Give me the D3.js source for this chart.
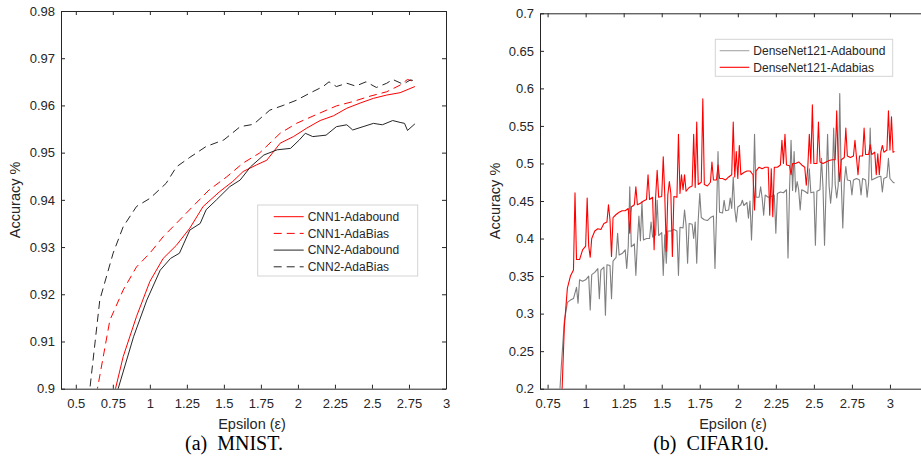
<!DOCTYPE html>
<html>
<head>
<meta charset="utf-8">
<script src="https://cdn.jsdelivr.net/npm/d3@7"></script>
<style>
  body { margin: 0; background: #fff; }
  svg { display: block; }
  .axis text { font-family: "Liberation Sans", Arial, sans-serif; font-size: 13px; fill: #262626; }
  .axis path, .axis line { stroke: #262626; }
</style>
</head>
<body>
<script>
// ---- panel (a) MNIST ----
const mnistXTicks = [0.5, 0.75, 1, 1.25, 1.5, 1.75, 2, 2.25, 2.5, 2.75, 3]
const mnistYTicks = [0.9, 0.91, 0.92, 0.93, 0.94, 0.95, 0.96, 0.97, 0.98]

const cnn1AdaboundEps = [0.74, 0.768, 0.82, 0.91, 1.0, 1.09, 1.18, 1.27, 1.36, 1.47, 1.56, 1.63, 1.72, 1.79, 1.88, 1.97, 2.06, 2.15, 2.24, 2.33, 2.42, 2.51, 2.6, 2.69, 2.79]
const cnn1AdaboundAcc = [0.896, 0.9, 0.9068, 0.9153, 0.9227, 0.9276, 0.9304, 0.934, 0.9386, 0.9417, 0.9439, 0.946, 0.9474, 0.9484, 0.952, 0.9534, 0.9552, 0.9568, 0.9578, 0.9594, 0.9605, 0.9615, 0.9622, 0.9627, 0.964]

const cnn1AdaBiasEps = [0.63, 0.646, 0.73, 0.82, 0.91, 1.0, 1.09, 1.2, 1.29, 1.4, 1.52, 1.63, 1.74, 1.88, 1.99, 2.12, 2.26, 2.37, 2.48, 2.6, 2.69, 2.74, 2.79]
const cnn1AdaBiasAcc = [0.896, 0.9, 0.9145, 0.9209, 0.9258, 0.9287, 0.9322, 0.9357, 0.9386, 0.9421, 0.9449, 0.9478, 0.9499, 0.9541, 0.9562, 0.958, 0.9599, 0.9608, 0.9619, 0.9629, 0.9643, 0.9655, 0.965]

const cnn2AdaboundEps = [0.77, 0.786, 0.89, 0.98, 1.07, 1.14, 1.2, 1.27, 1.34, 1.38, 1.45, 1.54, 1.61, 1.68, 1.77, 1.86, 1.95, 2.01, 2.05, 2.1, 2.19, 2.26, 2.33, 2.37, 2.44, 2.51, 2.57, 2.64, 2.69, 2.72, 2.74, 2.79]
const cnn2AdaboundAcc = [0.897, 0.9, 0.911, 0.9188, 0.9251, 0.9276, 0.9287, 0.9336, 0.935, 0.9379, 0.94, 0.9428, 0.9442, 0.947, 0.9495, 0.9506, 0.9509, 0.9527, 0.9541, 0.9534, 0.9537, 0.9555, 0.9559, 0.9548, 0.9555, 0.9562, 0.9559, 0.9568, 0.9564, 0.9562, 0.9547, 0.9561]

const cnn2AdaBiasEps = [0.58, 0.595, 0.662, 0.752, 0.82, 0.91, 1.0, 1.11, 1.18, 1.27, 1.38, 1.5, 1.61, 1.7, 1.81, 1.9, 1.99, 2.08, 2.17, 2.21, 2.26, 2.33, 2.39, 2.46, 2.53, 2.6, 2.64, 2.71, 2.76, 2.79]
const cnn2AdaBiasAcc = [0.895, 0.9, 0.9188, 0.9287, 0.9343, 0.9386, 0.9403, 0.9435, 0.947, 0.949, 0.9513, 0.9527, 0.9555, 0.956, 0.959, 0.96, 0.9611, 0.9626, 0.964, 0.965, 0.964, 0.9647, 0.9641, 0.965, 0.9638, 0.9647, 0.9655, 0.9645, 0.9654, 0.9652]

// ---- panel (b) CIFAR10 ----
const cifarXTicks = [0.75, 1, 1.25, 1.5, 1.75, 2, 2.25, 2.5, 2.75, 3]
const cifarYTicks = [0.2, 0.25, 0.3, 0.35, 0.4, 0.45, 0.5, 0.55, 0.6, 0.65, 0.7]

// regular epochs (the running level of each curve)
const cifarEps = [
  0.82, 0.84, 0.86, 0.88, 0.90, 0.92, 0.94, 0.96, 0.98, 1.00,
  1.02, 1.04, 1.06, 1.08, 1.10, 1.12, 1.14, 1.16, 1.18, 1.20,
  1.22, 1.24, 1.26, 1.28, 1.30, 1.32, 1.34, 1.36, 1.38, 1.40,
  1.42, 1.44, 1.46, 1.48, 1.50, 1.52, 1.54, 1.56, 1.58, 1.60,
  1.62, 1.64, 1.66, 1.68, 1.70, 1.72, 1.74, 1.76, 1.78, 1.80,
  1.82, 1.84, 1.86, 1.88, 1.90, 1.92, 1.94, 1.96, 1.98, 2.00,
  2.02, 2.04, 2.06, 2.08, 2.10, 2.12, 2.14, 2.16, 2.18, 2.20,
  2.22, 2.24, 2.26, 2.28, 2.30, 2.32, 2.34, 2.36, 2.38, 2.40,
  2.42, 2.44, 2.46, 2.48, 2.50, 2.52, 2.54, 2.56, 2.58, 2.60,
  2.62, 2.64, 2.66, 2.68, 2.70, 2.72, 2.74, 2.76, 2.78, 2.80,
  2.82, 2.84, 2.86, 2.88, 2.90, 2.92, 2.94, 2.96, 2.98, 3.00,
  3.02, 3.03]

const denseAdaboundAcc = [
  0.16, 0.23, 0.29, 0.315, 0.318, 0.32, 0.335, 0.345, 0.343, 0.345,
  0.35, 0.352, 0.355, 0.36, 0.358, 0.362, 0.365, 0.364, 0.37, 0.375,
  0.378, 0.38, 0.385, 0.39, 0.389, 0.393, 0.395, 0.397, 0.398, 0.40,
  0.40, 0.402, 0.405, 0.404, 0.408, 0.405, 0.41, 0.41, 0.412, 0.41,
  0.415, 0.414, 0.418, 0.42, 0.419, 0.422, 0.425, 0.428, 0.425, 0.424,
  0.428, 0.43, 0.432, 0.435, 0.434, 0.437, 0.438, 0.44, 0.439, 0.442,
  0.445, 0.444, 0.448, 0.45, 0.449, 0.455, 0.455, 0.454, 0.458, 0.455,
  0.456, 0.458, 0.46, 0.462, 0.461, 0.465, 0.465, 0.464, 0.462, 0.465,
  0.465, 0.463, 0.46, 0.461, 0.462, 0.463, 0.465, 0.468, 0.467, 0.47,
  0.47, 0.472, 0.471, 0.475, 0.475, 0.478, 0.477, 0.478, 0.48, 0.478,
  0.48, 0.478, 0.475, 0.478, 0.48, 0.482, 0.483, 0.48, 0.482, 0.48,
  0.475, 0.474]

const denseAdabiasAcc = [
  0.10, 0.17, 0.283, 0.334, 0.35, 0.358, 0.372, 0.372, 0.385, 0.39,
  0.39, 0.40, 0.41, 0.413, 0.412, 0.42, 0.422, 0.425, 0.428, 0.432,
  0.435, 0.437, 0.437, 0.44, 0.442, 0.445, 0.445, 0.447, 0.45, 0.452,
  0.452, 0.455, 0.455, 0.455, 0.456, 0.458, 0.458, 0.46, 0.456, 0.455,
  0.46, 0.465, 0.463, 0.468, 0.47, 0.468, 0.472, 0.475, 0.472, 0.47,
  0.475, 0.478, 0.478, 0.48, 0.48, 0.478, 0.482, 0.485, 0.482, 0.48,
  0.485, 0.488, 0.49, 0.49, 0.485, 0.49, 0.495, 0.493, 0.495, 0.495,
  0.493, 0.495, 0.495, 0.498, 0.50, 0.498, 0.497, 0.50, 0.50, 0.502,
  0.498, 0.495, 0.495, 0.50, 0.50, 0.50, 0.502, 0.50, 0.502, 0.504,
  0.505, 0.505, 0.503, 0.505, 0.508, 0.51, 0.508, 0.51, 0.508, 0.51,
  0.51, 0.512, 0.512, 0.512, 0.515, 0.513, 0.515, 0.515, 0.518, 0.518,
  0.515, 0.516]

// single-epoch jumps away from the running level
const adaboundSpikeEps = [0.95, 1.03, 1.09, 1.13, 1.17, 1.21, 1.27, 1.29, 1.33, 1.35, 1.37, 1.43, 1.47, 1.51, 1.53,
  1.61, 1.65, 1.67, 1.71, 1.73, 1.75, 1.85, 1.87, 1.91, 1.95, 1.97, 1.99, 2.03, 2.07, 2.09, 2.11, 2.15, 2.17,
  2.25, 2.33, 2.35, 2.37, 2.39, 2.41, 2.47, 2.51, 2.55, 2.57, 2.59, 2.61, 2.63, 2.65, 2.67, 2.69, 2.71, 2.75,
  2.81, 2.85, 2.87, 2.95, 2.99]
const adaboundSpikeAcc = [0.314, 0.305, 0.32, 0.298, 0.32, 0.407, 0.36, 0.469, 0.351, 0.43, 0.449, 0.422, 0.451, 0.351, 0.367,
  0.351, 0.438, 0.367, 0.40, 0.367, 0.46, 0.36, 0.516, 0.451, 0.454, 0.482, 0.422, 0.451, 0.427, 0.398, 0.539, 0.469, 0.431,
  0.407, 0.374, 0.531, 0.516, 0.476, 0.438, 0.493, 0.391, 0.507, 0.391, 0.539, 0.447, 0.547, 0.454, 0.593, 0.414, 0.496, 0.458,
  0.458, 0.455, 0.547, 0.462, 0.507]

const adabiasSpikeEps = [0.93, 1.01, 1.03, 1.15, 1.17, 1.29, 1.33, 1.41, 1.45, 1.47, 1.51, 1.53, 1.55, 1.57, 1.61,
  1.63, 1.65, 1.71, 1.73, 1.77, 1.83, 1.87, 1.97, 1.99, 2.01, 2.11, 2.21, 2.23, 2.29, 2.31, 2.35, 2.45, 2.47,
  2.49, 2.53, 2.65, 2.67, 2.71, 2.77, 2.79, 2.83, 2.87, 2.91, 2.93, 2.95, 2.99, 3.01]
const adabiasSpikeAcc = [0.461, 0.454, 0.375, 0.445, 0.376, 0.407, 0.469, 0.485, 0.385, 0.491, 0.509, 0.383, 0.476, 0.376, 0.539,
  0.485, 0.485, 0.539, 0.555, 0.586, 0.502, 0.498, 0.555, 0.516, 0.524, 0.438, 0.431, 0.429, 0.531, 0.539, 0.485, 0.471, 0.539,
  0.578, 0.555, 0.570, 0.476, 0.547, 0.531, 0.485, 0.547, 0.525, 0.485, 0.485, 0.524, 0.570, 0.562]

const W = 921, H = 458
const axisColor = '#262626'
const sans = '"Liberation Sans", Arial, sans-serif'

const svg = d3.select('body').append('svg')
    .attr('width', W)
    .attr('height', H)

function zip(xs, ys) {
    return xs.map((x, i) => [x, ys[i]])
}

// put the spike epochs back in order between the regular ones
function withSpikes(eps, acc, sEps, sAcc) {
    return zip(eps, acc).concat(zip(sEps, sAcc)).sort((a, b) => a[0] - b[0])
}

function trimZeros(v) {
    return String(+v.toFixed(2))
}

function drawPanel(p) {
    const x = d3.scaleLinear().domain(p.xDomain).range([p.left, p.right])
    const y = d3.scaleLinear().domain(p.yDomain).range([p.bottom, p.top])
    const g = svg.append('g')

    g.append('clipPath').attr('id', p.id + '-clip')
        .append('rect')
        .attr('x', p.left).attr('y', p.top)
        .attr('width', p.right - p.left).attr('height', p.bottom - p.top)

    // axes, ticks pointing inward like matlab
    g.append('g').attr('class', 'axis')
        .attr('transform', `translate(0,${p.bottom})`)
        .call(d3.axisBottom(x).tickValues(p.xTicks).tickFormat(trimZeros)
            .tickSizeInner(-4).tickSizeOuter(0).tickPadding(10.5))
    g.append('g').attr('class', 'axis')
        .attr('transform', `translate(0,${p.top})`)
        .call(d3.axisTop(x).tickValues(p.xTicks).tickFormat('')
            .tickSizeInner(-4).tickSizeOuter(0))
    g.append('g').attr('class', 'axis')
        .attr('transform', `translate(${p.left},0)`)
        .call(d3.axisLeft(y).tickValues(p.yTicks).tickFormat(trimZeros)
            .tickSizeInner(-4).tickSizeOuter(0).tickPadding(6))
    if (p.rightAxis) {
        g.append('g').attr('class', 'axis')
            .attr('transform', `translate(${p.right},0)`)
            .call(d3.axisRight(y).tickValues(p.yTicks).tickFormat('')
                .tickSizeInner(-4).tickSizeOuter(0))
    }

    const line = d3.line().x(d => x(d[0])).y(d => y(d[1]))
    const lines = g.append('g').attr('clip-path', `url(#${p.id}-clip)`)
    p.series.forEach(s => {
        lines.append('path')
            .datum(s.points)
            .attr('fill', 'none')
            .attr('stroke', s.color)
            .attr('stroke-width', s.width || 1)
            .attr('stroke-dasharray', s.dash || null)
            .attr('stroke-linejoin', 'round')
            .attr('d', line)
    })

    // axis titles
    g.append('text')
        .attr('x', p.xLabelX).attr('y', 429)
        .attr('text-anchor', 'middle')
        .attr('font-family', sans).attr('font-size', '14.5px')
        .attr('fill', axisColor)
        .text('Epsilon (ε)')
    g.append('text')
        .attr('transform', `translate(${p.yLabelX},${(p.top + p.bottom) / 2}) rotate(-90)`)
        .attr('text-anchor', 'middle')
        .attr('font-family', sans).attr('font-size', '14.5px')
        .attr('fill', axisColor)
        .text('Accuracy %')

    // caption under the panel
    g.append('text')
        .attr('x', p.captionX).attr('y', 450)
        .attr('text-anchor', 'middle')
        .attr('font-family', '"Liberation Serif", "Times New Roman", serif')
        .attr('font-size', '20px')
        .attr('fill', '#000')
        .text(p.caption)

    // legend box
    const lg = g.append('g')
    lg.append('rect')
        .attr('x', p.legend.x).attr('y', p.legend.y)
        .attr('width', p.legend.w).attr('height', p.legend.h)
        .attr('fill', '#fff').attr('stroke', '#d4d4d4')
    p.series.forEach((s, i) => {
        const ly = p.legend.y + p.legend.first + i * p.legend.step
        lg.append('line')
            .attr('x1', p.legend.x + p.legend.lx1).attr('x2', p.legend.x + p.legend.lx2)
            .attr('y1', ly).attr('y2', ly)
            .attr('stroke', s.legendColor || s.color)
            .attr('stroke-width', s.width || 1)
            .attr('stroke-dasharray', s.dash || null)
        lg.append('text')
            .attr('x', p.legend.x + p.legend.tx).attr('y', ly)
            .attr('dy', '0.35em')
            .attr('font-family', sans).attr('font-size', '12px')
            .attr('fill', axisColor)
            .text(s.name)
    })
}

drawPanel({
    id: 'mnist',
    left: 61, right: 446, top: 11, bottom: 388.7,
    xDomain: [0.4, 3], yDomain: [0.9, 0.98],
    xTicks: mnistXTicks, yTicks: mnistYTicks,
    rightAxis: true,
    xLabelX: 252, yLabelX: 20,
    caption: '(a)\u2002MNIST.', captionX: 234,
    legend: { x: 257.7, y: 205, w: 160, h: 71, first: 11.7, step: 16.7, lx1: 16, lx2: 46, tx: 50 },
    series: [
        { name: 'CNN1-Adabound', points: zip(cnn1AdaboundEps, cnn1AdaboundAcc), color: '#ff0000' },
        { name: 'CNN1-AdaBias', points: zip(cnn1AdaBiasEps, cnn1AdaBiasAcc), color: '#ff0000', dash: '8,5' },
        { name: 'CNN2-Adabound', points: zip(cnn2AdaboundEps, cnn2AdaboundAcc), color: '#262626' },
        { name: 'CNN2-AdaBias', points: zip(cnn2AdaBiasEps, cnn2AdaBiasAcc), color: '#262626', dash: '8,5' }
    ]
})

drawPanel({
    id: 'cifar',
    left: 540, right: 928, top: 13.3, bottom: 388.7,
    xDomain: [0.7, 3.25], yDomain: [0.2, 0.7],
    xTicks: cifarXTicks, yTicks: cifarYTicks,
    rightAxis: false,
    xLabelX: 733, yLabelX: 500,
    caption: '(b)\u2002CIFAR10.', captionX: 711,
    legend: { x: 715.3, y: 39.3, w: 177.4, h: 37, first: 11.4, step: 16.6, lx1: 4.4, lx2: 34, tx: 38 },
    series: [
        { name: 'DenseNet121-Adabound', points: withSpikes(cifarEps, denseAdaboundAcc, adaboundSpikeEps, adaboundSpikeAcc),
          color: '#7f7f7f', legendColor: '#a6a6a6', width: 1.1 },
        { name: 'DenseNet121-Adabias', points: withSpikes(cifarEps, denseAdabiasAcc, adabiasSpikeEps, adabiasSpikeAcc),
          color: '#ff0000', width: 1.1 }
    ]
})
</script>
</body>
</html>
